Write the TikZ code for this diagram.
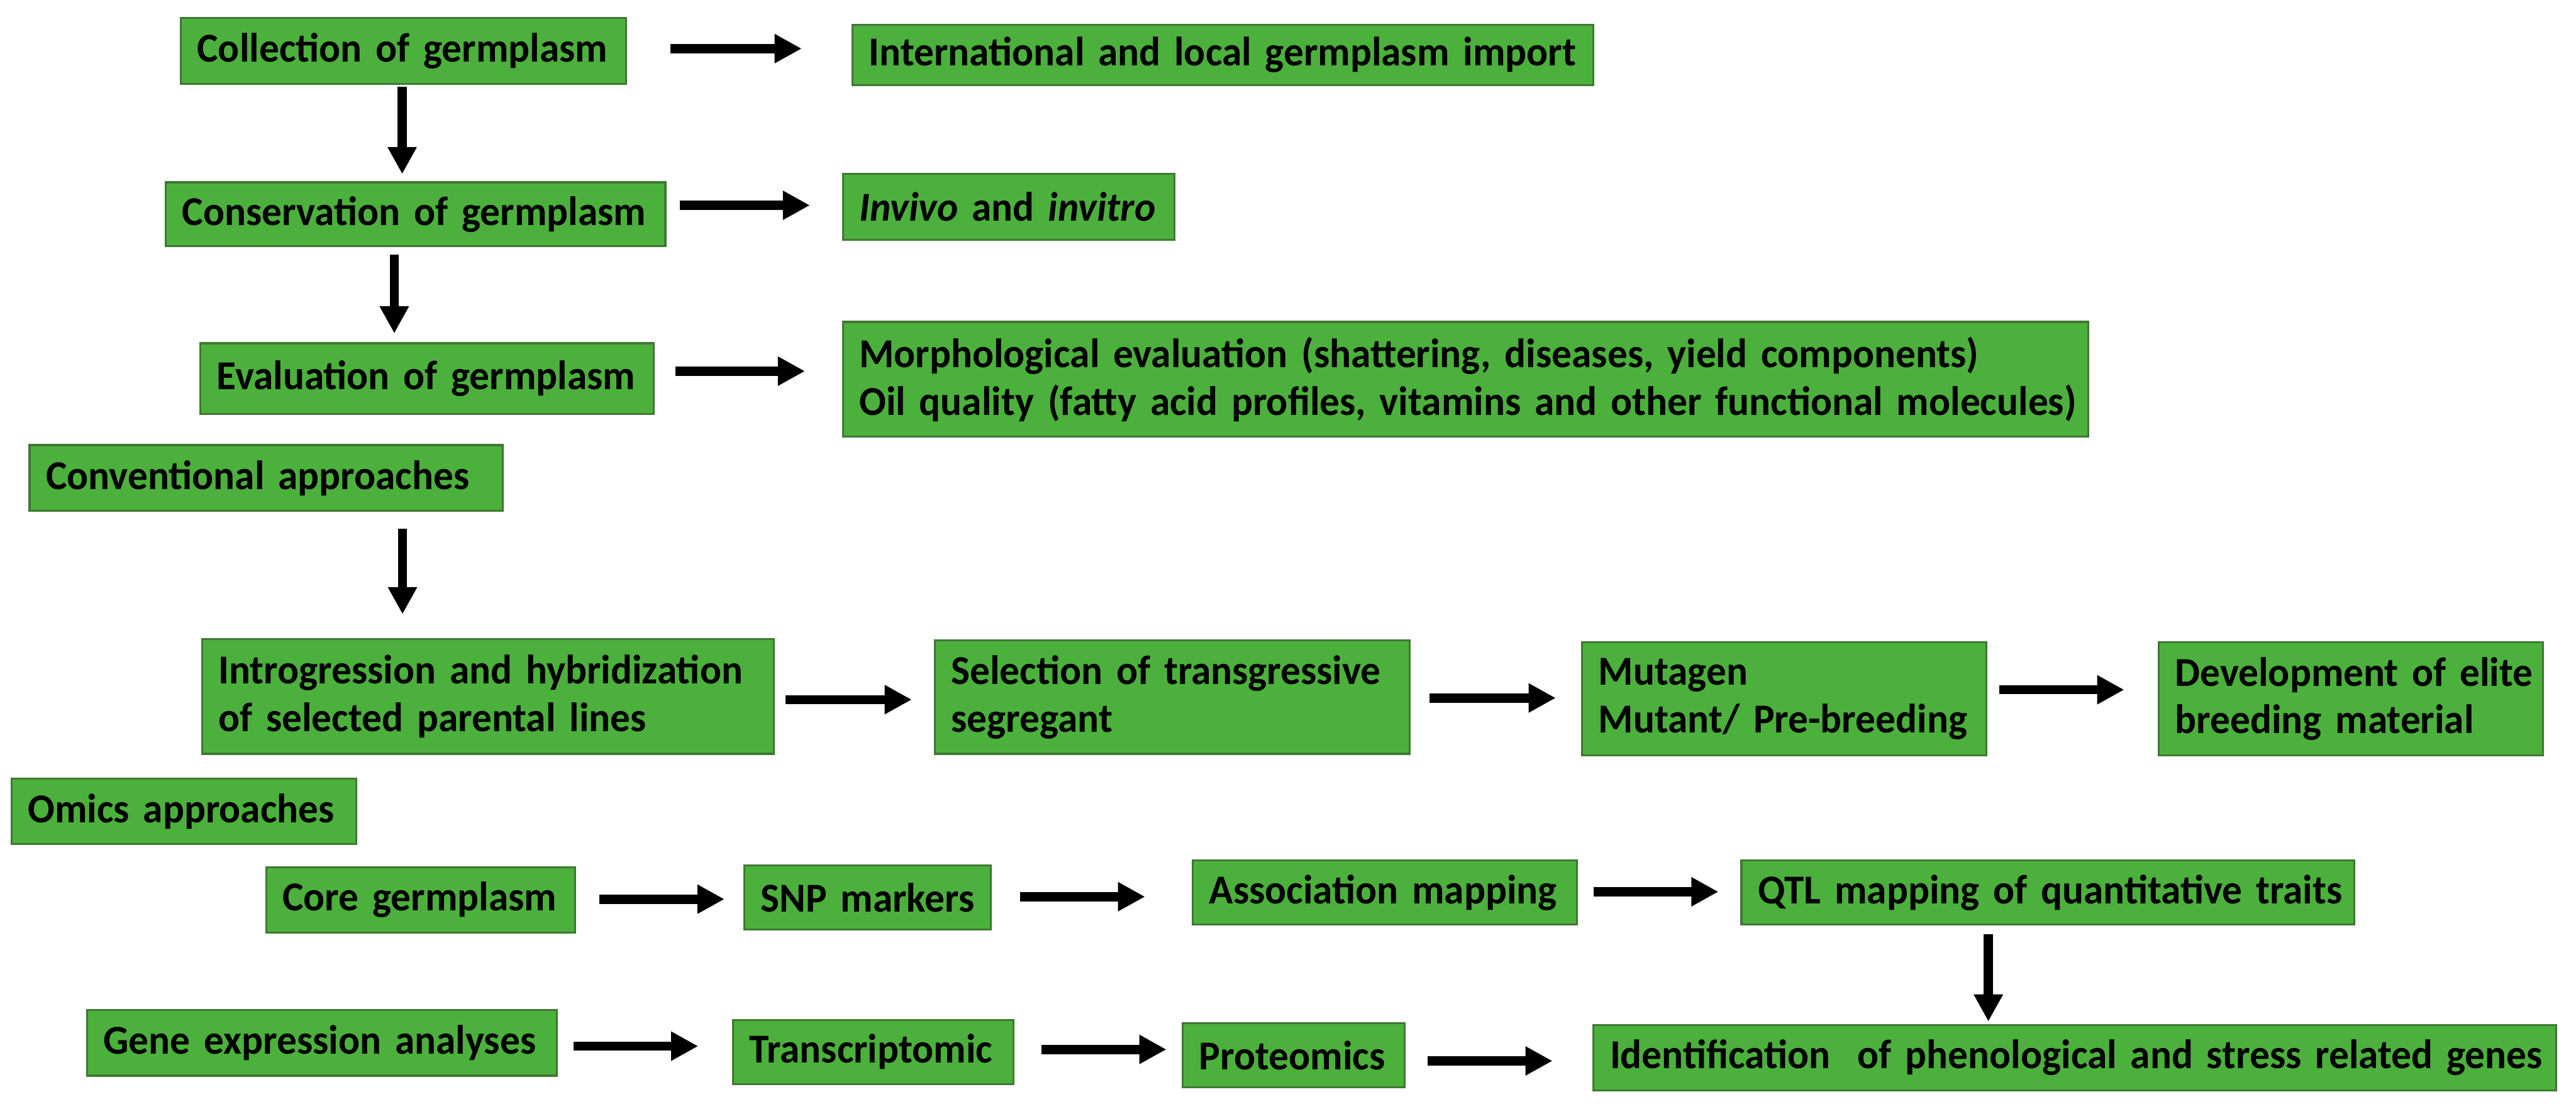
\documentclass[tikz,border=0pt]{standalone}
\usepackage{fontspec}
\setmainfont{Carlito}[FakeStretch=0.97]
\usetikzlibrary{arrows.meta,calc}
\definecolor{gfill}{RGB}{76,176,60}
\definecolor{gline}{RGB}{62,120,50}
\tikzset{
  gbox/.style={rectangle, draw=gline, fill=gfill, line width=1.2pt, inner xsep=10pt, inner ysep=0pt,
    outer sep=0pt, align=left, font=\fontsize{25}{29}\selectfont\bfseries},
  arr/.style={line width=5.6pt, -{Triangle[width=16.7pt,length=16.5pt]}},
}
\newcommand\gb[6]{%
  \pgfmathsetmacro\bw{#4-#2}\pgfmathsetmacro\bh{#5-#3}\pgfmathsetmacro\tw{#4-#2-20}%
  \node[gbox, anchor=north west, minimum width=\bw pt, minimum height=\bh pt, text width=\tw pt] (#1) at (#2,#3) {#6};}
\begin{document}
\begin{tikzpicture}[x=1pt,y=-1pt]
\useasboundingbox (0,0) rectangle (1568,675);
\gb{coll}{110}{11}{381}{51}{\mbox{Collection of germplasm}}
\gb{intl}{519}{15}{970}{52}{\mbox{International and local germplasm import}}
\gb{cons}{101}{111}{405}{150}{\mbox{Conservation of germplasm}}
\gb{inv}{513}{106}{715}{146}{\mbox{\textit{Invivo} and \textit{invitro}}}
\gb{eval}{122}{209}{398}{252}{\mbox{Evaluation of germplasm}}
\gb{morph}{513}{196}{1271}{266}{\mbox{Morphological evaluation (shattering, diseases, yield components)}\\\mbox{Oil quality (fatty acid profiles, vitamins and other functional molecules)}}
\gb{conv}{18}{271}{306}{311}{\mbox{Conventional approaches}}
\gb{intro}{123}{389}{471}{459}{\mbox{Introgression and hybridization}\\\mbox{of selected parental lines}}
\gb{sel}{569}{390}{858}{459}{\mbox{Selection of transgressive}\\\mbox{segregant}}
\gb{mut}{963}{391}{1209}{460}{\mbox{Mutagen}\\\mbox{Mutant/ Pre-breeding}}
\gb{dev}{1314}{391}{1548}{460}{\mbox{Development of elite}\\\mbox{breeding material}}
\gb{omics}{7}{474}{217}{514}{\mbox{Omics approaches}}
\gb{core}{162}{528}{350}{568}{\mbox{Core germplasm}}
\gb{snp}{453}{527}{603}{566}{\mbox{SNP markers}}
\gb{assoc}{726}{524}{960}{563}{\mbox{Association mapping}}
\gb{qtl}{1060}{524}{1433}{563}{\mbox{QTL mapping of quantitative traits}}
\gb{gene}{53}{615}{339}{655}{\mbox{Gene expression analyses}}
\gb{trans}{446}{621}{617}{660}{\mbox{Transcriptomic}}
\gb{prot}{720}{623}{855}{662}{\mbox{Proteomics}}
\gb{ident}{970}{624}{1556}{664}{\mbox{Identification\ \ of phenological and stress related genes}}

\draw[arr] ($(coll.east)+(27,-1.4)$) -- ($(coll.east -| intl.west)+(-31,-1.4)$);
\draw[arr] ($(coll.south)+(-0.7,2)$) -- ($(coll.south |- cons.north)+(-0.7,-5)$);
\draw[arr] ($(cons.east |- inv.west)+(9,-1)$) -- ($(inv.west)+(-20,-1)$);
\draw[arr] ($(cons.south)+(-13,5)$) -- ($(cons.south |- eval.north)+(-13,-6)$);
\draw[arr] ($(eval.east)+(13,-4.5)$) -- ($(eval.east -| morph.west)+(-23,-4.5)$);
\draw[arr] ($(conv.south)+(83,11)$) -- ($(conv.south |- intro.north)+(83,-15)$);
\draw[arr] ($(intro.east)+(7,2)$) -- ($(intro.east -| sel.west)+(-14,2)$);
\draw[arr] ($(sel.east)+(12,0.5)$) -- ($(sel.east -| mut.west)+(-16,0.5)$);
\draw[arr] ($(mut.east)+(8,-5.5)$) -- ($(mut.east -| dev.west)+(-21,-5.5)$);
\draw[arr] ($(core.east)+(15,-0.5)$) -- ($(core.east -| snp.west)+(-12,-0.5)$);
\draw[arr] ($(snp.east)+(18,-0.5)$) -- ($(snp.east -| assoc.west)+(-29,-0.5)$);
\draw[arr] ($(assoc.east)+(10,-0.5)$) -- ($(assoc.east -| qtl.west)+(-14,-0.5)$);
\draw[arr] ($(qtl.south)+(-36.2,6)$) -- ($(qtl.south |- ident.north)+(-36.2,-2)$);
\draw[arr] ($(gene.east)+(10,2)$) -- ($(gene.east -| trans.west)+(-21,2)$);
\draw[arr] ($(trans.east)+(17,-1.5)$) -- ($(trans.east -| prot.west)+(-10,-1.5)$);
\draw[arr] ($(prot.east)+(14,3.5)$) -- ($(prot.east -| ident.west)+(-25,3.5)$);
\end{tikzpicture}
\end{document}
